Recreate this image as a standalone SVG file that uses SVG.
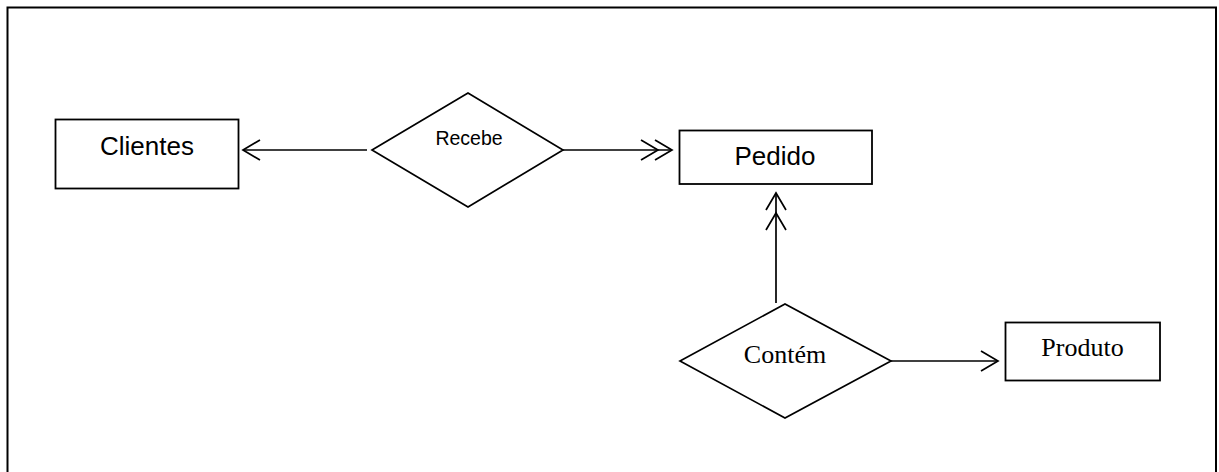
<svg xmlns="http://www.w3.org/2000/svg" width="1219" height="472" viewBox="0 0 1219 472">
  <style>
    .frame { fill: none; stroke: #000; stroke-width: 2; }
    .entity { fill: #fff; stroke: #000; stroke-width: 1.8; }
    .rel { fill: #fff; stroke: #000; stroke-width: 1.7; }
    .link { fill: none; stroke: #000; stroke-width: 1.7; }
    .sans { font-family: "Liberation Sans", Arial, sans-serif; fill: #000; text-anchor: middle; }
    .serif { font-family: "Liberation Serif", "Times New Roman", serif; fill: #000; text-anchor: middle; }
  </style>
  <defs>
    <marker id="one" markerUnits="userSpaceOnUse" markerWidth="40" markerHeight="40" refX="0" refY="0" orient="auto" overflow="visible">
      <path d="M-17,-10 L0,0 L-17,10" fill="none" stroke="#000" stroke-width="1.7"/>
    </marker>
    <marker id="many-h" markerUnits="userSpaceOnUse" markerWidth="40" markerHeight="40" refX="0" refY="0" orient="auto" overflow="visible">
      <path d="M-17,-10 L0,0 L-17,10 M-31,-10 L-14,0 L-31,10" fill="none" stroke="#000" stroke-width="1.7"/>
    </marker>
    <marker id="many-v" markerUnits="userSpaceOnUse" markerWidth="40" markerHeight="40" refX="0" refY="0" orient="auto" overflow="visible">
      <path d="M-17,-10 L0,0 L-17,10 M-37,-10 L-20,0 L-37,10" fill="none" stroke="#000" stroke-width="1.7"/>
    </marker>
  </defs>

  <!-- page border -->
  <rect class="frame" x="7.5" y="7.5" width="1208.5" height="480"/>

  <!-- relationship lines -->
  <g id="connectors">
    <line class="link" x1="367" y1="150" x2="243" y2="150" marker-end="url(#one)"/>
    <line class="link" x1="563" y1="150" x2="672" y2="150" marker-end="url(#many-h)"/>
    <line class="link" x1="776" y1="303" x2="776" y2="193" marker-end="url(#many-v)"/>
    <line class="link" x1="891" y1="361" x2="998" y2="361" marker-end="url(#one)"/>
  </g>

  <g id="clientes">
    <rect class="entity" x="55.5" y="119.5" width="183" height="69"/>
    <text class="sans" x="147" y="155" font-size="26">Clientes</text>
  </g>

  <g id="recebe">
    <polygon class="rel" points="372,150 468,93 563,150 468,207"/>
    <text class="sans" x="469" y="145" font-size="19.5">Recebe</text>
  </g>

  <g id="pedido">
    <rect class="entity" x="679.5" y="130.5" width="192.5" height="53.5"/>
    <text class="sans" x="775" y="165" font-size="26">Pedido</text>
  </g>

  <g id="contem">
    <polygon class="rel" points="680,361 785,304 891,361 785,418"/>
    <text class="serif" x="785" y="363" font-size="26">Contém</text>
  </g>

  <g id="produto">
    <rect class="entity" x="1005.5" y="322.5" width="154.5" height="58"/>
    <text class="serif" x="1082.5" y="356" font-size="26">Produto</text>
  </g>
</svg>
